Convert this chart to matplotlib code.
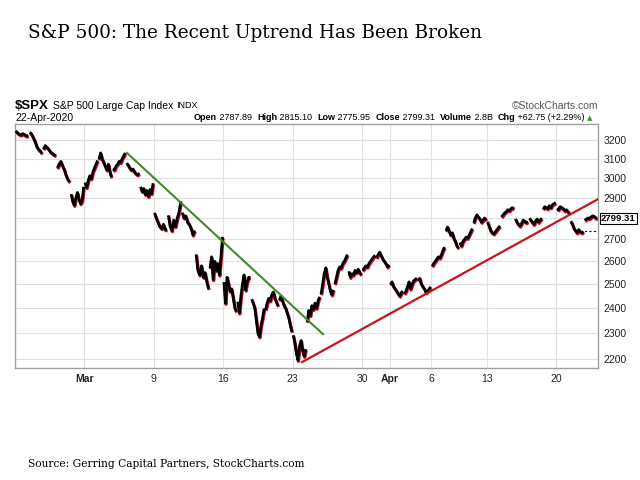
import numpy as np
import matplotlib
matplotlib.use('Agg')
import matplotlib.pyplot as plt
import matplotlib.transforms as mtransforms
from matplotlib.ticker import FixedLocator, NullLocator

# intraday price path per trading day (one list per day)
wk_feb24 = [[3250, 3240, 3232, 3228, 3235, 3230, 3222, 3226],
            [3242, 3235, 3215, 3195, 3165, 3150, 3140, 3128],
            [3150, 3170, 3160, 3150, 3135, 3128, 3120, 3116],
            [3050, 3070, 3085, 3060, 3040, 3010, 2990, 2979],
            [2917, 2880, 2862, 2900, 2925, 2890, 2870, 2885, 2954]]
wk_mar02 = [[2975, 2950, 2985, 3010, 2995, 3030, 3050, 3070, 3090],
            [3096, 3130, 3100, 3080, 3060, 3040, 3070, 3030, 3003],
            [3046, 3040, 3060, 3070, 3085, 3080, 3100, 3115, 3130],
            [3076, 3065, 3050, 3040, 3045, 3030, 3020, 3015, 3024],
            [2954, 2930, 2945, 2915, 2935, 2905, 2940, 2920, 2972]]
wk_mar09 = [[2825, 2800, 2780, 2760, 2750, 2770, 2745, 2746],
            [2813, 2760, 2740, 2790, 2760, 2800, 2830, 2882],
            [2826, 2800, 2810, 2780, 2770, 2750, 2720, 2741],
            [2631, 2560, 2540, 2580, 2530, 2550, 2510, 2480],
            [2570, 2620, 2520, 2600, 2560, 2590, 2540, 2620, 2711]]
wk_mar16 = [[2509, 2420, 2530, 2500, 2470, 2480, 2440, 2400, 2386],
            [2426, 2380, 2450, 2500, 2540, 2475, 2510, 2530, 2529],
            [2437, 2420, 2400, 2350, 2300, 2285, 2330, 2360, 2398],
            [2393, 2420, 2440, 2430, 2455, 2467, 2440, 2425, 2409],
            [2432, 2450, 2430, 2410, 2400, 2380, 2360, 2330, 2305]]
wk_mar23 = [[2291, 2260, 2220, 2195, 2250, 2270, 2230, 2210, 2237],
            [2344, 2390, 2370, 2410, 2395, 2420, 2400, 2430, 2447],
            [2458, 2500, 2545, 2571, 2530, 2500, 2470, 2455, 2476],
            [2501, 2530, 2560, 2575, 2570, 2590, 2600, 2615, 2630],
            [2556, 2530, 2545, 2540, 2560, 2550, 2565, 2550, 2541]]
wk_mar30 = [[2559, 2570, 2580, 2575, 2590, 2600, 2610, 2620, 2627],
            [2615, 2630, 2641, 2625, 2610, 2600, 2590, 2575, 2585],
            [2498, 2510, 2490, 2480, 2470, 2460, 2450, 2465, 2470],
            [2459, 2470, 2490, 2510, 2480, 2500, 2515, 2520, 2527],
            [2515, 2525, 2500, 2490, 2480, 2465, 2470, 2480, 2489]]
wk_apr06 = [[2578, 2590, 2600, 2610, 2620, 2615, 2630, 2650, 2664],
            [2739, 2757, 2740, 2720, 2730, 2705, 2690, 2670, 2659],
            [2685, 2670, 2690, 2700, 2710, 2705, 2720, 2735, 2750],
            [2777, 2800, 2815, 2805, 2795, 2780, 2790, 2800, 2790]]
wk_apr13 = [[2782, 2760, 2740, 2730, 2725, 2735, 2745, 2755, 2762],
            [2805, 2815, 2825, 2830, 2840, 2835, 2845, 2850, 2846],
            [2796, 2780, 2770, 2762, 2775, 2790, 2785, 2778, 2783],
            [2799, 2790, 2780, 2770, 2785, 2795, 2780, 2790, 2800],
            [2842, 2855, 2850, 2845, 2860, 2850, 2865, 2870, 2875]]
wk_apr20 = [[2846, 2840, 2855, 2850, 2845, 2835, 2840, 2830, 2823],
            [2785, 2770, 2750, 2740, 2730, 2745, 2735, 2730, 2737],
            [2788, 2795, 2800, 2798, 2805, 2810, 2808, 2800, 2799]]

# axis labels (day index of the trading-day axis)
tick_days = [5, 10, 15, 20, 25, 27, 30, 34, 39]
tick_labels = ['Mar', '9', '16', '23', '30', 'Apr', '6', '13', '20']
y_ticks = [2200, 2300, 2400, 2500, 2600, 2700, 2800, 2900, 3000, 3100, 3200]

# trend lines (day index, price)
down_trend = ([8.07, 22.19], [3130, 2295])
up_trend = ([20.68, 42.0], [2188, 2892])
prev_close = 2736.56
last_close = 2799.31

header = [('Open', ' 2787.89  '), ('High', ' 2815.10  '), ('Low', ' 2775.95  '),
          ('Close', ' 2799.31  '), ('Volume', ' 2.8B  '), ('Chg', ' +62.75 (+2.29%) ')]

days = wk_feb24 + wk_mar02 + wk_mar09 + wk_mar16 + wk_mar23 + wk_mar30 + wk_apr06 + wk_apr13 + wk_apr20

sans = ['Liberation Sans', 'DejaVu Sans']

fig = plt.figure(figsize=(6.4, 4.8), dpi=100)
ax = fig.add_axes([15 / 640, 1 - 368 / 480, 583 / 640, 244 / 480])

red_shift = mtransforms.offset_copy(ax.transData, fig=fig, x=0.6, y=-1.2, units='dots')
for d, vals in enumerate(days):
    xs = d + np.linspace(0.05, 0.95, len(vals))
    ax.plot(xs, vals, color='#d0102a', lw=2.2, transform=red_shift, zorder=3, solid_capstyle='butt')
    ax.plot(xs, vals, color='black', lw=2.0, zorder=4, solid_capstyle='butt')

ax.plot(*down_trend, color='#3f8a2a', lw=1.5, zorder=5)
ax.plot(*up_trend, color='#c8141c', lw=1.6, zorder=5)
ax.plot([40.7, 42.0], [prev_close, prev_close], color='blue', lw=0.8, ls=(0, (2, 2)), zorder=2)

ax.set_yscale('log')
ax.set_ylim(2166, 3289)
ax.set_xlim(0, 42)
ax.yaxis.set_major_locator(FixedLocator(y_ticks))
ax.yaxis.set_minor_locator(NullLocator())
# the 2800 label sits under the last-price tag
ax.set_yticklabels(['' if v == 2800 else str(v) for v in y_ticks], family=sans)
ax.yaxis.tick_right()
ax.set_xticks(tick_days)
ax.set_xticklabels(tick_labels, family=sans)
for lab in ax.get_xticklabels():
    if lab.get_text() in ('Mar', 'Apr'):
        lab.set_fontweight('bold')
ax.tick_params(axis='both', length=0, labelsize=7.5, colors='#222222')
ax.tick_params(axis='y', pad=4)
ax.tick_params(axis='x', pad=4)
ax.grid(True, color='#e0e0e0', lw=0.8, zorder=0)
ax.set_axisbelow(True)
for sp in ax.spines.values():
    sp.set_color('#a0a0a0')
    sp.set_linewidth(1.0)

# last price tag
ax.annotate(f'{last_close:.2f}', xy=(1.0, last_close), xycoords=('axes fraction', 'data'),
            xytext=(2, 0), textcoords='offset points', va='center', ha='left',
            fontsize=6.8, fontweight='bold', family=sans,
            bbox=dict(boxstyle='square,pad=0.12', fc='white', ec='black', lw=0.8))

# stockcharts header
fig.canvas.draw()
renderer = fig.canvas.get_renderer()
y1 = 1 - 106 / 480
y2 = 1 - 118 / 480
t = fig.text(15 / 640, y1, '$SPX', fontsize=9.5, fontweight='bold', va='center', family=sans)
x1 = 15 + t.get_window_extent(renderer).width + 4
t = fig.text(x1 / 640, y1, 'S&P 500 Large Cap Index', fontsize=7.5, va='center', family=sans)
x1 += t.get_window_extent(renderer).width + 3
fig.text(x1 / 640, y1, 'INDX', fontsize=6.5, va='center', family=sans)
fig.text(598 / 640, y1, '\u00a9StockCharts.com', fontsize=7.5, va='center', ha='right',
         color='#555555', family=sans)
fig.text(15 / 640, y2, '22-Apr-2020', fontsize=7.5, va='center', family=sans)

# quote line: measure once, then scale the size so it runs from x=194 to x=590
def put_quote(size):
    xpos = 194
    made = []
    for key, val in header:
        t = fig.text(xpos / 640, y2, key, fontsize=size, fontweight='bold', va='center', family=sans)
        xpos += t.get_window_extent(renderer).width
        made.append(t)
        t = fig.text(xpos / 640, y2, val, fontsize=size, va='center', family=sans)
        xpos += t.get_window_extent(renderer).width
        made.append(t)
    return xpos, made

end, made = put_quote(7.5)
for t in made:
    t.remove()
end, made = put_quote(7.5 * (590 - 194) / (end - 194))
fig.text(end / 640, y2, '\u25b2', fontsize=5, va='center', color='#2a9a2a', family=['DejaVu Sans'])

fig.text(28 / 640, 1 - 33 / 480, 'S&P 500: The Recent Uptrend Has Been Broken',
         fontsize=13.3, family='DejaVu Serif', va='center')
fig.text(28 / 640, 1 - 464 / 480, 'Source: Gerring Capital Partners, StockCharts.com',
         fontsize=7.7, family='DejaVu Serif', va='center')

fig.savefig('out.png', dpi=100)
